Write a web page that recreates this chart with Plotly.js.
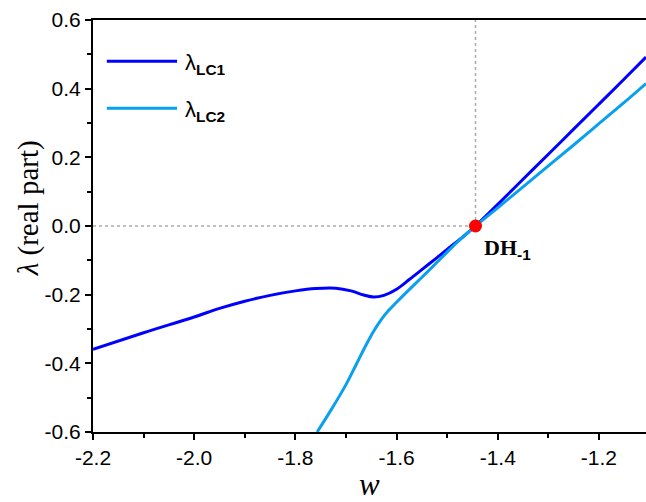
<!DOCTYPE html>
<html>
<head>
<meta charset="utf-8">
<script src="https://cdn.plot.ly/plotly-3.0.1.min.js"></script>
<style>html,body{margin:0;padding:0;background:#fff;}#chart{width:646px;height:502px;}</style>
</head>
<body>
<div id="chart"></div>
<script>
// λ_LC1 (dark blue)
const wLC1 = [-2.2, -2.1, -2.0, -1.95, -1.9, -1.85, -1.8, -1.76, -1.72, -1.69, -1.665, -1.645, -1.625, -1.6, -1.575, -1.55, -1.52, -1.5, -1.47, -1.444, -1.4, -1.35, -1.3, -1.25, -1.2, -1.15, -1.107];
const lamLC1 = [-0.359, -0.311, -0.265, -0.240, -0.219, -0.202, -0.189, -0.182, -0.181, -0.189, -0.201, -0.207, -0.202, -0.184, -0.156, -0.127, -0.092, -0.068, -0.033, 0.0, 0.063, 0.136, 0.209, 0.282, 0.355, 0.428, 0.492];
// λ_LC2 (light blue)
const wLC2 = [-1.757, -1.73, -1.70, -1.68, -1.66, -1.645, -1.63, -1.615, -1.60, -1.57, -1.54, -1.51, -1.48, -1.444, -1.40, -1.35, -1.30, -1.25, -1.20, -1.15, -1.107];
const lamLC2 = [-0.600, -0.537, -0.462, -0.404, -0.346, -0.306, -0.272, -0.245, -0.222, -0.178, -0.135, -0.091, -0.047, 0.0, 0.053, 0.114, 0.175, 0.236, 0.298, 0.360, 0.415];
// DH_-1 point
const dhW = [-1.444];
const dhLam = [0.0];
// reference dotted guides
const guideVx = [-1.444, -1.444];
const guideVy = [0.0, 0.6];
const guideHx = [-2.2, -1.444];
const guideHy = [0.0, 0.0];
// ticks
const xTickVals = [-2.2, -2.0, -1.8, -1.6, -1.4, -1.2];
const xTickText = ['-2.2', '-2.0', '-1.8', '-1.6', '-1.4', '-1.2'];
const yTickVals = [-0.6, -0.4, -0.2, 0.0, 0.2, 0.4, 0.6];
const yTickText = ['-0.6', '-0.4', '-0.2', '0.0', '0.2', '0.4', '0.6'];
const seriesNames = ['λ<sub><b>LC1</b></sub>', 'λ<sub><b>LC2</b></sub>'];
const seriesColors = ['#0000ff', '#0aa0f0'];

const traces = [
  {x: guideVx, y: guideVy, mode: 'lines', line: {color: '#aaaaaa', width: 1.5, dash: 'dot'}, showlegend: false, hoverinfo: 'skip'},
  {x: guideHx, y: guideHy, mode: 'lines', line: {color: '#aaaaaa', width: 1.5, dash: 'dot'}, showlegend: false, hoverinfo: 'skip'},
  {x: wLC1, y: lamLC1, mode: 'lines', name: seriesNames[0], line: {color: seriesColors[0], width: 3, shape: 'spline', smoothing: 1}, showlegend: false},
  {x: wLC2, y: lamLC2, mode: 'lines', name: seriesNames[1], line: {color: seriesColors[1], width: 3, shape: 'spline', smoothing: 1}, showlegend: false},
  {x: dhW, y: dhLam, mode: 'markers', marker: {color: '#ff0000', size: 13}, showlegend: false}
];

const layout = {
  width: 646, height: 502,
  margin: {l: 93, r: 0, t: 20, b: 70},
  paper_bgcolor: '#fff', plot_bgcolor: '#fff',
  font: {family: 'Liberation Sans', size: 21, color: '#000'},
  showlegend: false,
  xaxis: {
    range: [-2.2, -1.107], showgrid: false, zeroline: false,
    showline: true, linecolor: '#000', linewidth: 2, mirror: true,
    ticks: 'outside', ticklen: 6, tickwidth: 2, tickcolor: '#000',
    tickmode: 'array', tickvals: xTickVals, ticktext: xTickText,
    tickfont: {family: 'Liberation Sans', size: 21, color: '#000'},
    minor: {ticks: 'outside', ticklen: 4, tickwidth: 2, tickcolor: '#000', dtick: 0.1, tick0: -2.2, showgrid: false}
  },
  yaxis: {
    range: [-0.6, 0.6], showgrid: false, zeroline: false,
    showline: true, linecolor: '#000', linewidth: 2,
    ticks: 'outside', ticklen: 6, tickwidth: 2, tickcolor: '#000',
    tickmode: 'array', tickvals: yTickVals, ticktext: yTickText,
    tickfont: {family: 'Liberation Sans', size: 21, color: '#000'},
    minor: {ticks: 'outside', ticklen: 4, tickwidth: 2, tickcolor: '#000', dtick: 0.1, tick0: -0.6, showgrid: false}
  },
  shapes: [
    {type: 'line', xref: 'paper', yref: 'paper', x0: 0.025, x1: 0.152, y0: 0.9, y1: 0.9, line: {color: seriesColors[0], width: 3}},
    {type: 'line', xref: 'paper', yref: 'paper', x0: 0.025, x1: 0.152, y0: 0.786, y1: 0.786, line: {color: seriesColors[1], width: 3}}
  ],
  annotations: [
    {xref: 'paper', yref: 'paper', x: 0.163, y: 0.9, xanchor: 'left', yanchor: 'middle', yshift: -3, text: seriesNames[0], showarrow: false,
     font: {family: 'Liberation Sans', size: 22, color: '#000'}},
    {xref: 'paper', yref: 'paper', x: 0.163, y: 0.786, xanchor: 'left', yanchor: 'middle', yshift: -3, text: seriesNames[1], showarrow: false,
     font: {family: 'Liberation Sans', size: 22, color: '#000'}},
    {xref: 'x', yref: 'y', x: dhW[0], y: dhLam[0], xanchor: 'left', yanchor: 'top', xshift: 6, yshift: -7,
     text: '<b>DH</b><sub><b><span style="font-family:Liberation Sans">-1</span></b></sub>', showarrow: false,
     font: {family: 'Liberation Serif', size: 22, color: '#000'}},
    {xref: 'paper', yref: 'paper', x: 0.5, y: 0, yshift: -52, xanchor: 'center', yanchor: 'middle', showarrow: false,
     text: '<i>w</i>', font: {family: 'Liberation Serif', size: 31, color: '#000'}},
    {xref: 'paper', yref: 'paper', x: 0, xshift: -65, y: 0.543, xanchor: 'center', yanchor: 'middle', textangle: -90, showarrow: false,
     text: '<i>λ</i> (real part)', font: {family: 'Liberation Serif', size: 29, color: '#000'}}
  ]
};

Plotly.newPlot('chart', traces, layout, {displayModeBar: false, staticPlot: true});
</script>
</body>
</html>
